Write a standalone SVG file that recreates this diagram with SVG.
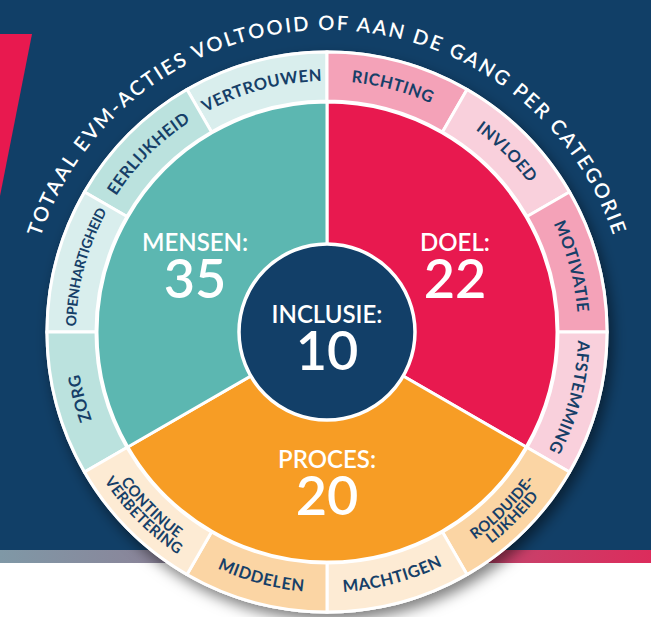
<svg xmlns="http://www.w3.org/2000/svg" width="651" height="617" viewBox="0 0 651 617">
<defs>
  <linearGradient id="strip" x1="0" y1="0" x2="1" y2="0">
    <stop offset="0" stop-color="#7f98a6"/>
    <stop offset="0.3" stop-color="#8e7f96"/>
    <stop offset="0.72" stop-color="#c2476f"/>
    <stop offset="1" stop-color="#dc2c5c"/>
  </linearGradient>
  <filter id="shadow" x="-20%" y="-20%" width="140%" height="140%">
    <feDropShadow dx="4" dy="7" stdDeviation="7" flood-color="#000" flood-opacity="0.5"/>
  </filter>
  <path id="pTitle" d="M25,332 A302,302 0 0 1 629,332"/>
  <path id="pVertrouwen" d="M190.3,121.5 A251,251 0 0 1 340.1,81.3"/>
  <path id="pEerlijkheid" d="M103.4,218.0 A251,251 0 0 1 213.0,108.4"/>
  <path id="pOpenhartigheid" d="M76.3,345.1 A251,251 0 0 1 116.5,195.3"/>
  <path id="pZorg" d="M116.5,468.7 A251,251 0 0 1 76.3,318.9"/>
  <path id="pRichting" d="M313.9,81.3 A251,251 0 0 1 463.7,121.5"/>
  <path id="pInvloed" d="M441.0,108.4 A251,251 0 0 1 550.6,218.0"/>
  <path id="pMotivatie" d="M537.5,195.3 A251,251 0 0 1 577.7,345.1"/>
  <path id="pAfstemming" d="M577.7,318.9 A251,251 0 0 1 537.5,468.7"/>
  <path id="pMachtigen" d="M313.4,592.1 A260.5,260.5 0 0 0 468.9,550.5"/>
  <path id="pMiddelen" d="M185.1,550.5 A260.5,260.5 0 0 0 340.6,592.1"/>
  <path id="pRol1" d="M442.8,559.2 A255,255 0 0 0 554.2,447.8"/>
  <path id="pRol2" d="M448.7,570.8 A268,268 0 0 0 565.8,453.7"/>
  <path id="pCon1" d="M99.8,447.8 A255,255 0 0 0 211.2,559.2"/>
  <path id="pCon2" d="M88.2,453.7 A268,268 0 0 0 205.3,570.8"/>
</defs>
<style>
  .seg { stroke: #ffffff; stroke-width: 3; stroke-linejoin: miter; }
  .tl { fill: #d9eeed; }
  .td { fill: #bbe2de; }
  .rd { fill: #f4a2b8; }
  .rl { fill: #f9d0dc; }
  .od { fill: #fbd5a4; }
  .ol { fill: #fdebd4; }
  .lbl { font-family: Lato, "Noto Sans", sans-serif; font-weight: 700; fill: #163f68; font-size: 16.5px; letter-spacing: 0.5px; text-anchor: middle; }
  .two { font-size: 15px; letter-spacing: 0.3px; }
  .big { font-family: Lato, "Noto Sans", sans-serif; fill: #ffffff; text-anchor: middle; }
  .cat { font-size: 24px; font-weight: 600; }
  .num { font-size: 54px; font-weight: 600; }
  .title { font-family: Lato, "Noto Sans", sans-serif; font-weight: 600; fill: #ffffff; font-size: 20px; letter-spacing: 2.2px; text-anchor: middle; }
</style>

<g id="background">
  <rect x="0" y="0" width="651" height="550" fill="#113f67"/>
  <rect x="0" y="550" width="651" height="13" fill="url(#strip)"/>
  <polygon points="0,34 32,34 0,196" fill="#e8194f"/>
</g>

<g id="title">
  <text class="title"><textPath href="#pTitle" startOffset="50%">TOTAAL EVM-ACTIES VOLTOOID OF AAN DE GANG PER CATEGORIE</textPath></text>
</g>

<g id="wheel">
  <circle cx="327" cy="332" r="281.5" fill="#ffffff" filter="url(#shadow)"/>

  <g id="ring-mensen">
    <path id="vertrouwen-seg" class="seg tl" d="M187,89.51 A280,280 0 0 1 327,52 L327,101 A231,231 0 0 0 211.5,131.95 Z"/>
    <path id="eerlijkheid-seg" class="seg td" d="M84.51,192 A280,280 0 0 1 187,89.51 L211.5,131.95 A231,231 0 0 0 126.95,216.5 Z"/>
    <path id="openhartigheid-seg" class="seg tl" d="M47,332 A280,280 0 0 1 84.51,192 L126.95,216.5 A231,231 0 0 0 96,332 Z"/>
    <path id="zorg-seg" class="seg td" d="M84.51,472 A280,280 0 0 1 47,332 L96,332 A231,231 0 0 0 126.95,447.5 Z"/>
  </g>
  <g id="ring-doel">
    <path id="richting-seg" class="seg rd" d="M327,52 A280,280 0 0 1 467,89.51 L442.5,131.95 A231,231 0 0 0 327,101 Z"/>
    <path id="invloed-seg" class="seg rl" d="M467,89.51 A280,280 0 0 1 569.49,192 L527.05,216.5 A231,231 0 0 0 442.5,131.95 Z"/>
    <path id="motivatie-seg" class="seg rd" d="M569.49,192 A280,280 0 0 1 607,332 L558,332 A231,231 0 0 0 527.05,216.5 Z"/>
    <path id="afstemming-seg" class="seg rl" d="M607,332 A280,280 0 0 1 569.49,472 L527.05,447.5 A231,231 0 0 0 558,332 Z"/>
  </g>
  <g id="ring-proces">
    <path id="rolduidelijkheid-seg" class="seg od" d="M569.49,472 A280,280 0 0 1 467,574.49 L442.5,532.05 A231,231 0 0 0 527.05,447.5 Z"/>
    <path id="machtigen-seg" class="seg ol" d="M467,574.49 A280,280 0 0 1 327,612 L327,563 A231,231 0 0 0 442.5,532.05 Z"/>
    <path id="middelen-seg" class="seg od" d="M327,612 A280,280 0 0 1 187,574.49 L211.5,532.05 A231,231 0 0 0 327,563 Z"/>
    <path id="continue-seg" class="seg ol" d="M187,574.49 A280,280 0 0 1 84.51,472 L126.95,447.5 A231,231 0 0 0 211.5,532.05 Z"/>
  </g>

  <g id="pie">
    <path id="doel-sector" class="seg" fill="#e8194f" d="M327,332 L327,102 A230,230 0 0 1 526.19,447 Z"/>
    <path id="proces-sector" class="seg" fill="#f79d25" d="M327,332 L526.19,447 A230,230 0 0 1 127.81,447 Z"/>
    <path id="mensen-sector" class="seg" fill="#5cb7b1" d="M327,332 L127.81,447 A230,230 0 0 1 327,102 Z"/>
  </g>
</g>

<g id="labels">
  <text class="lbl"><textPath href="#pVertrouwen" startOffset="50%">VERTROUWEN</textPath></text>
  <text class="lbl"><textPath href="#pEerlijkheid" startOffset="50%">EERLIJKHEID</textPath></text>
  <text class="lbl" style="font-size:14px;letter-spacing:-0.3px"><textPath href="#pOpenhartigheid" startOffset="50%">OPENHARTIGHEID</textPath></text>
  <text class="lbl"><textPath href="#pZorg" startOffset="50%">ZORG</textPath></text>
  <text class="lbl"><textPath href="#pRichting" startOffset="50%">RICHTING</textPath></text>
  <text class="lbl"><textPath href="#pInvloed" startOffset="50%">INVLOED</textPath></text>
  <text class="lbl"><textPath href="#pMotivatie" startOffset="50%">MOTIVATIE</textPath></text>
  <text class="lbl"><textPath href="#pAfstemming" startOffset="50%">AFSTEMMING</textPath></text>
  <text class="lbl"><textPath href="#pMachtigen" startOffset="50%">MACHTIGEN</textPath></text>
  <text class="lbl"><textPath href="#pMiddelen" startOffset="50%">MIDDELEN</textPath></text>
  <text class="lbl two"><textPath href="#pRol1" startOffset="50%">ROLDUIDE-</textPath></text>
  <text class="lbl two"><textPath href="#pRol2" startOffset="50%">LIJKHEID</textPath></text>
  <text class="lbl two"><textPath href="#pCon1" startOffset="50%">CONTINUE</textPath></text>
  <text class="lbl two"><textPath href="#pCon2" startOffset="50%">VERBETERING</textPath></text>
</g>

<g id="mensen">
  <text class="big cat" x="195" y="251">MENSEN:</text>
  <text class="big num" x="195" y="298">35</text>
</g>
<g id="doel">
  <text class="big cat" x="455" y="251">DOEL:</text>
  <text class="big num" x="455" y="298">22</text>
</g>
<g id="proces">
  <text class="big cat" x="327" y="468">PROCES:</text>
  <text class="big num" x="327" y="515">20</text>
</g>
<g id="inclusie">
  <circle cx="327" cy="332" r="88" fill="#123f68" stroke="#ffffff" stroke-width="3.5"/>
  <text class="big cat" x="327" y="323">INCLUSIE:</text>
  <text class="big num" x="327" y="370">10</text>
</g>
</svg>
